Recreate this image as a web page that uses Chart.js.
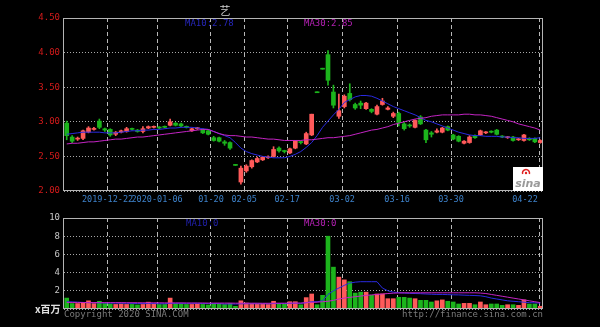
<!DOCTYPE html>
<html lang="zh-CN">
  <head>
    <meta charset="UTF-8" />
    <title>K线图</title>
    <script src="https://cdn.jsdelivr.net/npm/chart.js"></script>
    <style>
      html,
      body {
        margin: 0;
        padding: 0;
        background: #000;
      }
      .wrap {
        position: relative;
        width: 600px;
        height: 327px;
      }
      #kline {
        position: absolute;
        left: 0;
        top: 0;
      }
      #volume {
        position: absolute;
        left: 0;
        top: 205px;
      }
    </style>
  </head>
  <body>
    <div class="wrap">
      <canvas id="kline" width="600" height="205"></canvas>
      <canvas id="volume" width="600" height="122"></canvas>
    </div>
    <script>
      // date ticks (in candle index units)
      const dateLabels = ["2019-12-22", "2020-01-06", "01-20", "02-05", "02-17", "03-02", "03-16", "03-30", "04-22"];
      const gridAt = [7.5, 16.6, 26.5, 32.6, 40.5, 50.6, 60.7, 70.6, 86.8];
      const labelAt = [7.5, 16.6, 26.5, 32.6, 40.5, 50.6, 60.7, 70.6, 84.2];

      const openPrice = [
        2.98, 2.78, 2.75, 2.76, 2.85, 2.89, 3.01, 2.90, 2.89, 2.82,
        2.85, 2.86, 2.90, 2.88, 2.86, 2.91, 2.92, 2.92, 2.93, 2.95,
        2.98, 2.97, 2.93, 2.87, 2.90, 2.89, 2.87, 2.77, 2.77, 2.71,
        2.70, 2.37, 2.13, 2.29, 2.35, 2.42, 2.45, 2.48, 2.50, 2.62,
        2.58, 2.55, 2.62, 2.71, 2.68, 2.81, 3.42, 3.76, 3.97, 3.43,
        3.08, 3.22, 3.41, 3.25, 3.27, 3.19, 3.18, 3.11, 3.25, 3.18,
        3.08, 3.12, 2.97, 2.95, 2.92, 3.07, 2.88, 2.84, 2.85, 2.85,
        2.93, 2.81, 2.79, 2.69, 2.70, 2.80, 2.81, 2.84, 2.86, 2.88,
        2.79, 2.77, 2.78, 2.74, 2.73, 2.76, 2.76, 2.70
      ];
      const closePrice = [
        2.80, 2.72, 2.76, 2.87, 2.91, 2.90, 2.92, 2.88, 2.81, 2.85,
        2.87, 2.90, 2.89, 2.86, 2.90, 2.93, 2.93, 2.91, 2.92, 3.00,
        2.95, 2.94, 2.92, 2.90, 2.91, 2.84, 2.82, 2.73, 2.72, 2.69,
        2.62, 2.37, 2.33, 2.36, 2.44, 2.47, 2.49, 2.49, 2.60, 2.58,
        2.57, 2.61, 2.72, 2.70, 2.83, 3.11, 3.42, 3.76, 3.60, 3.24,
        3.16, 3.37, 3.32, 3.20, 3.24, 3.27, 3.15, 3.22, 3.30, 3.20,
        3.12, 2.99, 2.90, 2.94, 3.02, 2.97, 2.74, 2.82, 2.87, 2.91,
        2.88, 2.75, 2.72, 2.72, 2.78, 2.77, 2.87, 2.85, 2.85, 2.82,
        2.78, 2.78, 2.73, 2.75, 2.81, 2.74, 2.71, 2.73
      ];
      const highPrice = [
        3.01, 2.80, 2.78, 2.88, 2.93, 2.92, 3.04, 2.91, 2.90, 2.86,
        2.88, 2.92, 2.91, 2.89, 2.93, 2.94, 2.94, 2.93, 2.94, 3.04,
        2.99, 2.98, 2.94, 2.91, 2.92, 2.90, 2.88, 2.79, 2.78, 2.73,
        2.71, 2.37, 2.36, 2.38, 2.45, 2.49, 2.50, 2.51, 2.64, 2.64,
        2.59, 2.62, 2.73, 2.72, 2.85, 3.11, 3.42, 3.76, 4.03, 3.53,
        3.40, 3.39, 3.55, 3.27, 3.30, 3.28, 3.19, 3.24, 3.34, 3.22,
        3.14, 3.14, 2.99, 2.97, 3.03, 3.09, 2.89, 2.86, 2.90, 2.92,
        2.94, 2.82, 2.80, 2.73, 2.80, 2.81, 2.88, 2.86, 2.87, 2.89,
        2.80, 2.79, 2.79, 2.76, 2.82, 2.77, 2.77, 2.74
      ];
      const lowPrice = [
        2.74, 2.70, 2.73, 2.74, 2.84, 2.88, 2.90, 2.86, 2.79, 2.80,
        2.84, 2.85, 2.88, 2.85, 2.84, 2.90, 2.91, 2.90, 2.91, 2.94,
        2.94, 2.93, 2.91, 2.86, 2.89, 2.83, 2.81, 2.72, 2.71, 2.66,
        2.60, 2.37, 2.10, 2.27, 2.33, 2.41, 2.44, 2.47, 2.49, 2.56,
        2.55, 2.54, 2.61, 2.68, 2.67, 2.80, 3.42, 3.76, 3.53, 3.20,
        3.05, 3.20, 3.30, 3.18, 3.19, 3.18, 3.13, 3.10, 3.24, 3.17,
        3.06, 2.94, 2.88, 2.92, 2.91, 2.96, 2.70, 2.78, 2.84, 2.84,
        2.87, 2.74, 2.71, 2.68, 2.69, 2.76, 2.80, 2.83, 2.84, 2.81,
        2.77, 2.76, 2.72, 2.73, 2.72, 2.73, 2.70, 2.69
      ];
      const ma10 = [
        2.82, 2.83, 2.84, 2.85, 2.85, 2.85, 2.85, 2.84, 2.84, 2.84,
        2.85, 2.86, 2.87, 2.87, 2.88, 2.88, 2.89, 2.89, 2.90, 2.91,
        2.91, 2.92, 2.92, 2.92, 2.91, 2.90, 2.89, 2.86, 2.83, 2.80,
        2.77, 2.70, 2.62, 2.57, 2.54, 2.52, 2.50, 2.49, 2.48, 2.48,
        2.48, 2.50, 2.53, 2.57, 2.63, 2.70, 2.80, 2.92, 3.01, 3.10,
        3.18, 3.28, 3.32, 3.36, 3.38, 3.38, 3.37, 3.34, 3.30, 3.26,
        3.22, 3.19, 3.16, 3.13, 3.10, 3.06, 3.02, 3.00, 2.97, 2.94,
        2.91, 2.88, 2.85, 2.83, 2.81, 2.80, 2.80, 2.79, 2.79, 2.79,
        2.78, 2.78, 2.77, 2.77, 2.76, 2.76, 2.76, 2.77
      ];
      const ma30 = [
        2.68, 2.69, 2.69, 2.70, 2.71, 2.71, 2.72, 2.73, 2.74, 2.75,
        2.75, 2.76, 2.77, 2.78, 2.78, 2.79, 2.80, 2.81, 2.82, 2.83,
        2.84, 2.85, 2.86, 2.87, 2.88, 2.89, 2.89, 2.86, 2.83, 2.81,
        2.80, 2.80, 2.79, 2.78, 2.78, 2.77, 2.76, 2.75, 2.75, 2.74,
        2.73, 2.73, 2.73, 2.73, 2.74, 2.74, 2.75, 2.76, 2.77, 2.77,
        2.78, 2.79, 2.80, 2.82, 2.84, 2.86, 2.88, 2.89, 2.91, 2.93,
        2.96, 2.98, 3.00, 3.02, 3.04, 3.05, 3.06, 3.08, 3.09, 3.10,
        3.10, 3.10, 3.10, 3.11, 3.11, 3.10, 3.10, 3.09, 3.08, 3.06,
        3.04, 3.02, 3.00, 2.97, 2.95, 2.93, 2.91, 2.88
      ];
      // volume, millions of shares
      const volume = [
        1.2, 0.6, 0.6, 0.65, 0.9, 0.6, 0.85, 0.6, 0.55, 0.5,
        0.55, 0.5, 0.5, 0.45, 0.5, 0.75, 0.55, 0.5, 0.5, 1.2,
        0.6, 0.55, 0.5, 0.5, 0.55, 0.5, 0.45, 0.6, 0.55, 0.5,
        0.6, 0.3, 0.9, 0.65, 0.6, 0.55, 0.55, 0.5, 0.85, 0.6,
        0.55, 0.8, 0.8, 0.47, 1.25, 1.65, 0.47, 1.5, 8.0, 4.6,
        3.5, 3.2, 3.0, 1.75, 1.85, 1.85, 1.5, 1.65, 1.65, 1.13,
        1.13, 1.28, 1.28, 1.2, 1.13, 0.95, 0.95, 0.77, 0.9, 1.0,
        0.85, 0.77, 0.55, 0.62, 0.62, 0.47, 0.77, 0.47, 0.55, 0.55,
        0.4, 0.47, 0.47, 0.4, 1.0, 0.55, 0.55, 0.3
      ];
      const volMa10 = [
        0.8, 0.78, 0.75, 0.72, 0.7, 0.68, 0.68, 0.66, 0.65, 0.65,
        0.64, 0.63, 0.62, 0.6, 0.6, 0.6, 0.6, 0.58, 0.58, 0.62,
        0.62, 0.62, 0.62, 0.62, 0.62, 0.6, 0.6, 0.6, 0.6, 0.55,
        0.56, 0.54, 0.57, 0.58, 0.58, 0.58, 0.58, 0.57, 0.6, 0.6,
        0.6, 0.62, 0.64, 0.62, 0.7, 0.8, 0.8, 0.9, 1.6, 2.0,
        2.3, 2.6, 2.85, 2.95, 3.0, 3.0, 3.0, 3.0, 2.3, 2.0,
        1.85, 1.8, 1.75, 1.72, 1.7, 1.68, 1.65, 1.62, 1.6, 1.6,
        1.58, 1.56, 1.55, 1.52, 1.5, 1.48, 1.45, 1.35, 1.2, 1.1,
        1.0, 0.9, 0.85, 0.8, 0.75, 0.7, 0.68, 0.65
      ];
      const volMa30 = [
        0.72, 0.72, 0.72, 0.71, 0.71, 0.71, 0.7, 0.7, 0.7, 0.7,
        0.7, 0.69, 0.69, 0.69, 0.68, 0.68, 0.68, 0.68, 0.67, 0.67,
        0.67, 0.67, 0.66, 0.66, 0.66, 0.66, 0.65, 0.65, 0.65, 0.65,
        0.65, 0.64, 0.64, 0.64, 0.64, 0.64, 0.63, 0.63, 0.64, 0.64,
        0.64, 0.65, 0.65, 0.65, 0.7, 0.72, 0.75, 0.8, 0.85, 0.95,
        1.1, 1.2, 1.28, 1.35, 1.42, 1.5, 1.55, 1.6, 1.65, 1.7,
        1.74, 1.76, 1.78, 1.78, 1.78, 1.78, 1.78, 1.78, 1.78, 1.78,
        1.78, 1.78, 1.78, 1.78, 1.78, 1.78, 1.75, 1.7, 1.6, 1.5,
        1.4, 1.3, 1.2, 1.1, 1.0, 0.9, 0.8, 0.7
      ];

      const UP = "#ff5a5a";
      const DOWN = "#1cb41c";
      const MA10_COLOR = "#2a2ae0";
      const MA30_COLOR = "#c424c4";
      const MONO = "'DejaVu Sans Mono', monospace";

      const candleColor = closePrice.map((c, i) => (c > openPrice[i] ? UP : DOWN));
      const xMin = -0.5;
      const xMax = openPrice.length - 0.5;

      Chart.defaults.animation = false;
      Chart.defaults.font.family = MONO;
      Chart.defaults.font.size = 9;

      const fixTicks = (positions) => (scale) => {
        scale.ticks = positions.map((v) => ({ value: v }));
      };

      const points = (arr) => arr.map((v, i) => ({ x: i, y: v }));

      // frame round the plot area and free texts
      const decorPlugin = (texts, drawExtra) => ({
        id: "decor",
        afterDatasetsDraw(chart) {
          const { ctx, chartArea: a } = chart;
          ctx.save();
          ctx.strokeStyle = "#b4b4b4";
          ctx.lineWidth = 1;
          ctx.strokeRect(Math.round(a.left) - 0.5, Math.round(a.top) + 0.5, Math.round(a.right - a.left), Math.round(a.bottom - a.top) - 1);
          texts.forEach((t) => {
            ctx.font = t.font || "9px " + MONO;
            ctx.fillStyle = t.color;
            ctx.textAlign = t.align || "left";
            ctx.textBaseline = "middle";
            ctx.fillText(t.text, t.x, t.y);
          });
          if (drawExtra) drawExtra(ctx);
          ctx.restore();
        },
      });

      const drawSinaLogo = (ctx) => {
        ctx.fillStyle = "#ffffff";
        ctx.fillRect(513, 167, 30, 24);
        ctx.strokeStyle = "#e02020";
        ctx.lineWidth = 1.5;
        ctx.beginPath();
        ctx.arc(526, 173, 3.5, Math.PI * 0.9, Math.PI * 2.1);
        ctx.stroke();
        ctx.fillStyle = "#e02020";
        ctx.beginPath();
        ctx.arc(526, 173, 1.2, 0, Math.PI * 2);
        ctx.fill();
        ctx.fillStyle = "#9a9a9a";
        ctx.font = "italic bold 11px 'DejaVu Sans', sans-serif";
        ctx.textAlign = "center";
        ctx.textBaseline = "middle";
        ctx.fillText("sina", 528, 184);
      };

      const gridAxis = (height) => ({
        type: "linear",
        position: "bottom",
        weight: 0,
        offset: false,
        min: xMin,
        max: xMax,
        afterBuildTicks: fixTicks(gridAt),
        afterFit: (s) => { s.height = height; },
        ticks: { display: false },
        grid: { color: "#b8b8b8", drawTicks: false, tickLength: 0, offset: false },
        border: { display: false, dash: [4, 3] },
      });

      // price chart
      new Chart(document.getElementById("kline"), {
        data: {
          datasets: [
            {
              type: "bar",
              label: "wick",
              data: lowPrice.map((l, i) => ({ x: i, y: [l, highPrice[i]] })),
              backgroundColor: candleColor,
              barThickness: 1,
              minBarLength: 1,
              grouped: false,
              order: 3,
              xAxisID: "x",
            },
            {
              type: "bar",
              label: "body",
              data: openPrice.map((o, i) => ({ x: i, y: [o, closePrice[i]] })),
              backgroundColor: candleColor,
              barThickness: 4,
              minBarLength: 1,
              grouped: false,
              order: 2,
              xAxisID: "x",
            },
            {
              type: "line",
              label: "MA10",
              data: points(ma10),
              borderColor: MA10_COLOR,
              borderWidth: 1,
              pointRadius: 0,
              order: 1,
              xAxisID: "x",
            },
            {
              type: "line",
              label: "MA30",
              data: points(ma30),
              borderColor: MA30_COLOR,
              borderWidth: 1,
              pointRadius: 0,
              order: 0,
              xAxisID: "x",
            },
          ],
        },
        options: {
          responsive: false,
          events: [],
          layout: { padding: { top: 18, right: 57, left: 0, bottom: 0 } },
          plugins: { legend: { display: false }, tooltip: { enabled: false } },
          scales: {
            x: gridAxis(0),
            xd: {
              type: "linear",
              position: "bottom",
              weight: 1,
              offset: false,
              min: xMin,
              max: xMax,
              afterBuildTicks: fixTicks(labelAt),
              afterFit: (s) => { s.height = 14; },
              grid: { display: false, drawTicks: false, tickLength: 0 },
              border: { display: false },
              ticks: {
                autoSkip: false,
                maxRotation: 0,
                minRotation: 0,
                padding: 4,
                color: "#3d80c8",
                font: { size: 8.5 },
                callback: (v, i) => dateLabels[i],
              },
            },
            y: {
              min: 2,
              max: 4.5,
              afterFit: (s) => { s.width = 64; },
              ticks: { stepSize: 0.5, color: "#d41a1a", padding: 4, callback: (v) => v.toFixed(2) },
              grid: { color: "#a8a8a8", drawTicks: false, tickLength: 0 },
              border: { display: false, dash: [1, 2] },
            },
          },
        },
        plugins: [
          decorPlugin(
            [
              { text: "艺", x: 225, y: 11, color: "#cfcfcf", align: "center", font: "11px 'Noto Sans CJK SC', sans-serif" },
              { text: "MA10:2.78", x: 185, y: 24, color: "#2626b8" },
              { text: "MA30:2.85", x: 304, y: 24, color: "#b420b4" },
            ],
            drawSinaLogo
          ),
        ],
      });

      // volume chart
      new Chart(document.getElementById("volume"), {
        data: {
          datasets: [
            {
              type: "bar",
              label: "volume",
              data: points(volume),
              backgroundColor: candleColor,
              barThickness: 4,
              grouped: false,
              order: 2,
              xAxisID: "x",
            },
            {
              type: "line",
              label: "MA10",
              data: points(volMa10),
              borderColor: MA10_COLOR,
              borderWidth: 1,
              pointRadius: 0,
              order: 1,
              xAxisID: "x",
            },
            {
              type: "line",
              label: "MA30",
              data: points(volMa30),
              borderColor: MA30_COLOR,
              borderWidth: 1,
              pointRadius: 0,
              order: 0,
              xAxisID: "x",
            },
          ],
        },
        options: {
          responsive: false,
          events: [],
          layout: { padding: { top: 13, right: 57, left: 0, bottom: 0 } },
          plugins: { legend: { display: false }, tooltip: { enabled: false } },
          scales: {
            x: gridAxis(18),
            y: {
              min: 0,
              max: 10,
              afterFit: (s) => { s.width = 64; },
              ticks: { stepSize: 2, color: "#c8c8c8", padding: 4, callback: (v) => (v === 0 ? "" : v) },
              grid: { color: "#a8a8a8", drawTicks: false, tickLength: 0 },
              border: { display: false, dash: [1, 2] },
            },
          },
        },
        plugins: [
          decorPlugin([
            { text: "MA10:0", x: 186, y: 19, color: "#2020a8" },
            { text: "MA30:0", x: 304, y: 19, color: "#b420b4" },
            { text: "x百万", x: 35, y: 104, color: "#e0e0e0", font: "bold 10px 'Noto Sans CJK SC', sans-serif" },
            { text: "Copyright 2020 SINA.COM", x: 64, y: 110, color: "#7a7a7a" },
            { text: "http://finance.sina.com.cn", x: 543, y: 110, color: "#7a7a7a", align: "right" },
          ]),
        ],
      });
    </script>
  </body>
</html>
